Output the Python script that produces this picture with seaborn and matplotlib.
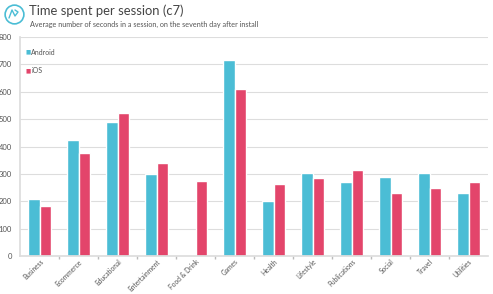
import numpy as np
import pandas as pd
import matplotlib
matplotlib.use("Agg")
import matplotlib.pyplot as plt
import seaborn as sns
from matplotlib.lines import Line2D

categories = ["Business", "Ecommerce", "Educational", "Entertainment", "Food & Drink",
              "Games", "Health", "Lifestyle", "Publications", "Social", "Travel", "Utilities"]
android = [210, 425, 488, 300, np.nan, 715, 200, 305, 270, 288, 302, 232]
ios = [184, 377, 522, 340, 273, 611, 265, 285, 315, 230, 250, 270]
series = ["Android", "iOS"]
colors = ["#4BBDD5", "#E3456B"]
yticks = [0, 100, 200, 300, 400, 500, 600, 700, 800]

df = pd.DataFrame({
    "category": categories * 2,
    "value": android + ios,
    "platform": [series[0]] * len(categories) + [series[1]] * len(categories),
})

sns.set_theme(style="white")
plt.rcParams['font.family'] = ['Lato', 'DejaVu Sans']

W, H = 493, 294
fig = plt.figure(figsize=(W / 100, H / 100), dpi=100)
ax = fig.add_axes([0.041, 0.129, 0.949, 0.745])

sns.barplot(data=df, x="category", y="value", hue="platform", palette=colors,
            width=0.6, ax=ax, saturation=1, errorbar=None, legend=False)

ax.set_ylim(0, 800)
ax.set_xlim(-0.5, len(categories) - 0.5)
ax.set_yticks(yticks)
ax.set_yticklabels([str(v) for v in yticks], fontsize=5.5, color="#555555")
ax.tick_params(axis="y", length=0, pad=6)
ax.yaxis.grid(True, color="#DDDDDD", linewidth=0.8)
ax.set_axisbelow(True)
ax.set_xlabel("")
ax.set_ylabel("")
ax.set_xticks(range(len(categories)))
ax.set_xticklabels(categories, rotation=45, ha="right", rotation_mode="anchor",
                   fontsize=4.8, color="#555555")
ax.tick_params(axis="x", length=0, pad=1.5)
ax.set_xticks(np.arange(0.5, len(categories) - 0.5, 1), minor=True)
ax.tick_params(axis="x", which="minor", length=2, color="#BBBBBB", bottom=True)
for s in ["top", "right"]:
    ax.spines[s].set_visible(False)
ax.spines["left"].set_color("#DDDDDD")
ax.spines["bottom"].set_color("#DDDDDD")

# legend
ax.text(0.012, 0.93, "\u25A0", transform=ax.transAxes, color=colors[0], fontsize=4, va="center")
ax.text(0.024, 0.93, series[0], transform=ax.transAxes, color="#555555", fontsize=5, va="center")
ax.text(0.012, 0.845, "\u25A0", transform=ax.transAxes, color=colors[1], fontsize=4, va="center")
ax.text(0.024, 0.845, series[1], transform=ax.transAxes, color="#555555", fontsize=5, va="center")

# icon: circle with a small line glyph
def fx(px):
    return px / W

def fy(py):
    return 1 - py / H

fig.add_artist(Line2D([fx(13.5)], [fy(14)], marker="o", markersize=13.5, markerfacecolor="none",
                      markeredgecolor=colors[0], markeredgewidth=1.2, transform=fig.transFigure))
fig.add_artist(Line2D([fx(9), fx(12), fx(15), fx(18), fx(15)],
                      [fy(18), fy(10), fy(16), fy(12), fy(10)],
                      color=colors[0], linewidth=1.0, transform=fig.transFigure))

fig.text(fx(29), fy(11), "Time spent per session (c7)", fontsize=9.4, color="#444444", va="center")
fig.text(fx(29.5), fy(24), "Average number of seconds in a session, on the seventh day after install",
         fontsize=5.2, color="#555555", va="center")

fig.savefig("out.png", dpi=100, facecolor="white")
